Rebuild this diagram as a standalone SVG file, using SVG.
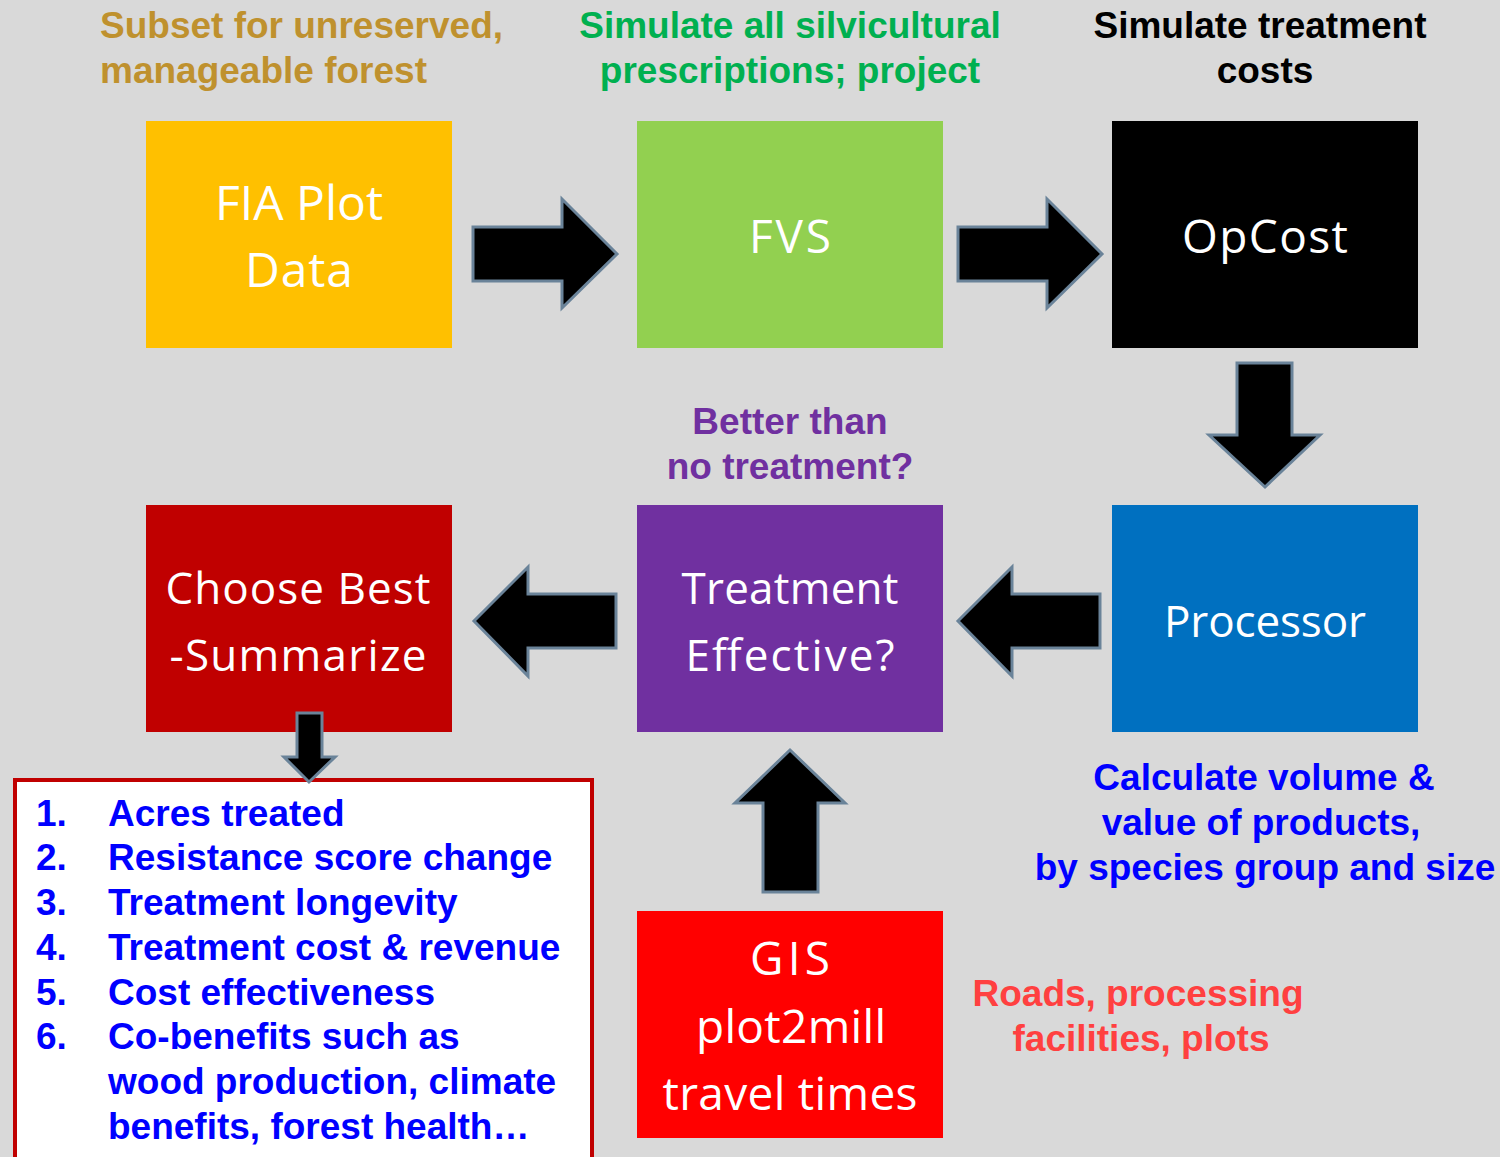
<svg xmlns="http://www.w3.org/2000/svg" width="1500" height="1157" viewBox="0 0 1500 1157">
  <style>
    .box-label { font-family: "Open Sans", "DejaVu Sans", sans-serif; fill: #FFFFFF; text-anchor: middle; }
    .note { font-family: "Liberation Sans", Arial, sans-serif; font-weight: bold; font-size: 37px; }
    .mid { text-anchor: middle; }
    .arrow { fill: #000000; stroke: #6A8399; stroke-width: 3; stroke-linejoin: miter; }
    .list { font-family: "Liberation Sans", Arial, sans-serif; font-weight: bold; font-size: 37px; fill: #0000FF; }
  </style>

  <!-- background -->
  <rect x="0" y="0" width="1500" height="1157" fill="#D9D9D9"/>

  <!-- annotation texts -->
  <g id="notes">
    <text class="note" fill="#BF912E" x="100" y="38">Subset for unreserved,</text>
    <text class="note" fill="#BF912E" x="100" y="83">manageable forest</text>
    <text class="note mid" fill="#00B050" x="790" y="38">Simulate all silvicultural</text>
    <text class="note mid" fill="#00B050" x="790" y="83">prescriptions; project</text>
    <text class="note mid" fill="#000000" x="1260" y="38">Simulate treatment</text>
    <text class="note mid" fill="#000000" x="1265" y="83">costs</text>
    <text class="note mid" fill="#7030A0" x="790" y="434">Better than</text>
    <text class="note mid" fill="#7030A0" x="790" y="479">no treatment?</text>
    <text class="note mid" fill="#0000FF" x="1264" y="790">Calculate volume &amp;</text>
    <text class="note mid" fill="#0000FF" x="1261" y="835">value of products,</text>
    <text class="note mid" fill="#0000FF" x="1265" y="880">by species group and size</text>
    <text class="note mid" fill="#FF4040" x="1138" y="1006">Roads, processing</text>
    <text class="note mid" fill="#FF4040" x="1141" y="1051">facilities, plots</text>
  </g>

  <!-- process boxes -->
  <g id="fia">
    <rect x="146" y="121" width="306" height="227" fill="#FFC000"/>
    <text class="box-label" x="299" y="220" font-size="48" textLength="168" lengthAdjust="spacing">FIA Plot</text>
    <text class="box-label" x="299" y="287" font-size="48" textLength="108" lengthAdjust="spacing">Data</text>
  </g>
  <g id="fvs">
    <rect x="637" y="121" width="306" height="227" fill="#92D050"/>
    <text class="box-label" x="790" y="253" font-size="46" textLength="82" lengthAdjust="spacing">FVS</text>
  </g>
  <g id="opcost">
    <rect x="1112" y="121" width="306" height="227" fill="#000000"/>
    <text class="box-label" x="1265" y="253" font-size="46" textLength="166" lengthAdjust="spacing">OpCost</text>
  </g>
  <g id="processor">
    <rect x="1112" y="505" width="306" height="227" fill="#0070C0"/>
    <text class="box-label" x="1265" y="637" font-size="44" textLength="202" lengthAdjust="spacing">Processor</text>
  </g>
  <g id="treatment-effective">
    <rect x="637" y="505" width="306" height="227" fill="#7030A0"/>
    <text class="box-label" x="790" y="604" font-size="44" textLength="217" lengthAdjust="spacing">Treatment</text>
    <text class="box-label" x="790" y="671" font-size="44" textLength="209" lengthAdjust="spacing">Effective?</text>
  </g>
  <g id="choose-best">
    <rect x="146" y="505" width="306" height="227" fill="#C00000"/>
    <text class="box-label" x="298" y="604" font-size="44" textLength="265" lengthAdjust="spacing">Choose Best</text>
    <text class="box-label" x="298" y="671" font-size="44" textLength="257" lengthAdjust="spacing">-Summarize</text>
  </g>
  <g id="gis">
    <rect x="637" y="911" width="306" height="227" fill="#FF0000"/>
    <text class="box-label" x="790" y="975" font-size="46" textLength="80" lengthAdjust="spacing">GIS</text>
    <text class="box-label" x="791" y="1043" font-size="46" textLength="190" lengthAdjust="spacing">plot2mill</text>
    <text class="box-label" x="790" y="1110" font-size="46" textLength="255" lengthAdjust="spacing">travel times</text>
  </g>

  <!-- outcome list -->
  <g id="outcomes">
    <rect x="15" y="780" width="577" height="400" fill="#FFFFFF" stroke="#C00000" stroke-width="4"/>
    <text class="list" x="36" y="826">1.</text>
    <text class="list" x="108" y="826">Acres treated</text>
    <text class="list" x="36" y="870">2.</text>
    <text class="list" x="108" y="870">Resistance score change</text>
    <text class="list" x="36" y="915">3.</text>
    <text class="list" x="108" y="915">Treatment longevity</text>
    <text class="list" x="36" y="960">4.</text>
    <text class="list" x="108" y="960">Treatment cost &amp; revenue</text>
    <text class="list" x="36" y="1005">5.</text>
    <text class="list" x="108" y="1005">Cost effectiveness</text>
    <text class="list" x="36" y="1049">6.</text>
    <text class="list" x="108" y="1049">Co-benefits such as</text>
    <text class="list" x="108" y="1094">wood production, climate</text>
    <text class="list" x="108" y="1139">benefits, forest health…</text>
  </g>

  <!-- block arrows between steps -->
  <g id="connectors">
    <path class="arrow" d="M473,227 H562 V199 L617,254 L562,308 V281 H473 Z"/>
    <path class="arrow" d="M958,227 H1047 V199 L1102,254 L1047,308 V281 H958 Z"/>
    <path class="arrow" d="M1237,363 H1292 V435 H1320 L1265,487 L1209,435 H1237 Z"/>
    <path class="arrow" d="M1100,594 V648 H1012 V676 L958,621 L1012,567 V594 Z"/>
    <path class="arrow" d="M616,594 V648 H528 V676 L474,621 L528,567 V594 Z"/>
    <path class="arrow" d="M763,892 V803 H735 L790,750 L845,803 H818 V892 Z"/>
    <path class="arrow" d="M297,713 H322 V757 H335 L309,782 L284,757 H297 Z"/>
  </g>
</svg>
